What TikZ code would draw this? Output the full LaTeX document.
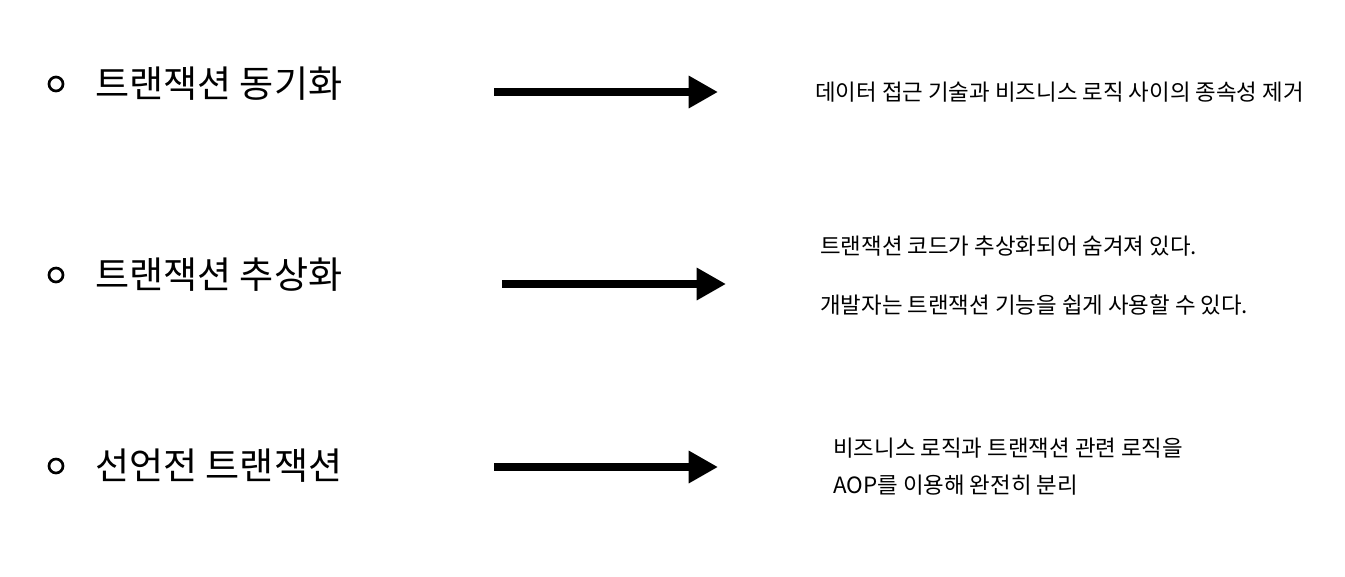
\documentclass[tikz,border=0pt]{standalone}
\usepackage{fontspec}
\newfontfamily\kr{Noto Sans CJK KR}
\usetikzlibrary{positioning,arrows.meta}

\begin{document}
\begin{tikzpicture}[x=0.75pt,y=-0.75pt,
    bullet/.style={circle,draw,line width=2pt,minimum size=10.5pt,inner sep=0pt},
    topic/.style={anchor=west,inner sep=0pt,font=\kr\fontsize{27.8}{32}\selectfont},
    remark/.style={anchor=west,inner sep=0pt,font=\kr\fontsize{16.8}{20}\selectfont},
    bigarrow/.style={line width=6pt,-{Triangle[length=22pt,width=23pt]}}]
  \useasboundingbox (0,0) rectangle (1345,576);
  % row 1
  \node[bullet] (b1) at (56,84) {};
  \node[topic] (t1) at (95,84) {트랜잭션 동기화};
  \coordinate (s1) at (494,92);
  \coordinate (e1) at (718,92);
  \draw[bigarrow] (s1) -- (e1);
  \node[remark] (r1) at (815,92) {데이터 접근 기술과 비즈니스 로직 사이의 종속성 제거};
  % row 2
  \node[bullet] (b2) at (56,275) {};
  \node[topic] (t2) at (95,275) {트랜잭션 추상화};
  \coordinate (s2) at (502,284);
  \coordinate (e2) at (726,284);
  \draw[bigarrow] (s2) -- (e2);
  \node[remark] (r2a) at (820,246) {트랜잭션 코드가 추상화되어 숨겨져 있다.};
  \node[remark] (r2b) at (820,305) {개발자는 트랜잭션 기능을 쉽게 사용할 수 있다.};
  % row 3
  \node[bullet] (b3) at (56,466) {};
  \node[topic] (t3) at (95,466) {선언전 트랜잭션};
  \coordinate (s3) at (494,467);
  \coordinate (e3) at (718,467);
  \draw[bigarrow] (s3) -- (e3);
  \node[remark] (r3a) at (833,448) {비즈니스 로직과 트랜잭션 관련 로직을};
  \node[remark] (r3b) at (833,485) {AOP를 이용해 완전히 분리};
\end{tikzpicture}
\end{document}
